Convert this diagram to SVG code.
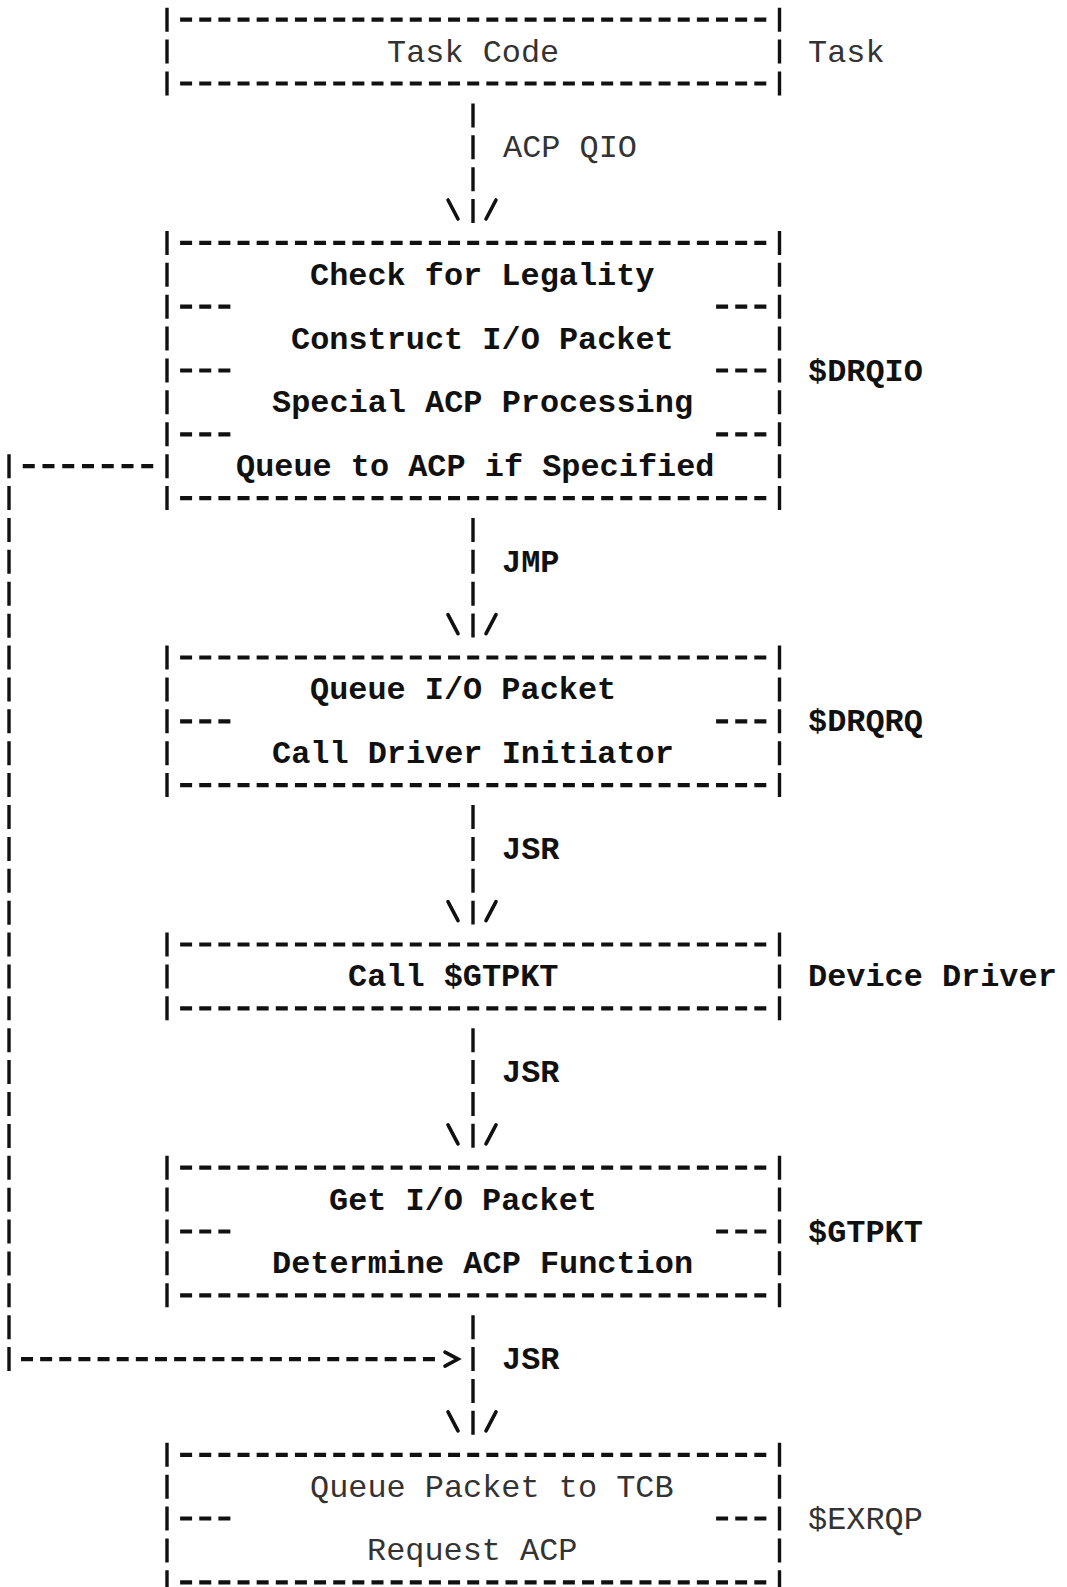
<svg xmlns="http://www.w3.org/2000/svg" width="1067" height="1587" viewBox="0 0 1067 1587">
<style>
  .bg { fill: #ffffff; }
  .hd { stroke: #111; stroke-width: 4.2; stroke-dasharray: 12 7.14; fill: none; }
  .vb { stroke: #111; stroke-width: 3.4; stroke-dasharray: 24 7.89; fill: none; }
  .ln { stroke: #111; stroke-width: 3.6; fill: none; stroke-linecap: round; }
  .t { font-family: "Liberation Mono", "DejaVu Sans Mono", monospace; font-size: 31.9px; font-weight: bold; fill: #111; }
  .tl { font-family: "Liberation Mono", "DejaVu Sans Mono", monospace; font-size: 31.9px; font-weight: normal; fill: #333; }
</style>
<rect class="bg" x="0" y="0" width="1067" height="1587"/>
<g transform="translate(0 2.5)">
<g id="node-task">
  <line class="vb" x1="167" y1="5.2" x2="167" y2="93"/>
  <line class="vb" x1="779.5" y1="5.2" x2="779.5" y2="93"/>
  <line class="hd" x1="180.1" y1="17.2" x2="766.4" y2="17.2"/>
  <line class="hd" x1="180.1" y1="81" x2="766.4" y2="81"/>
  <text class="tl" x="387" y="59">Task Code</text>
  <text class="tl" x="808" y="59">Task</text>
</g>

<g id="node-drqio">
  <line class="vb" x1="167" y1="228.4" x2="167" y2="507.6"/>
  <line class="vb" x1="779.5" y1="228.4" x2="779.5" y2="507.6"/>
  <line class="hd" x1="180.1" y1="240.4" x2="766.4" y2="240.4"/>
  <line class="hd" x1="180.1" y1="495.6" x2="766.4" y2="495.6"/>
  <line class="hd" x1="180.1" y1="304.2" x2="230.4" y2="304.2"/>
  <line class="hd" x1="716.1" y1="304.2" x2="766.4" y2="304.2"/>
  <line class="hd" x1="180.1" y1="368" x2="230.4" y2="368"/>
  <line class="hd" x1="716.1" y1="368" x2="766.4" y2="368"/>
  <line class="hd" x1="180.1" y1="431.8" x2="230.4" y2="431.8"/>
  <line class="hd" x1="716.1" y1="431.8" x2="766.4" y2="431.8"/>
  <text class="t" x="310" y="282.3">Check for Legality</text>
  <text class="t" x="291" y="346.1">Construct I/O Packet</text>
  <text class="t" x="272" y="409.9">Special ACP Processing</text>
  <text class="t" x="236" y="473.7">Queue to ACP if Specified</text>
  <text class="t" x="808" y="378">$DRQIO</text>
</g>

<g id="node-drqrq">
  <line class="vb" x1="167" y1="643" x2="167" y2="794.6"/>
  <line class="vb" x1="779.5" y1="643" x2="779.5" y2="794.6"/>
  <line class="hd" x1="180.1" y1="655" x2="766.4" y2="655"/>
  <line class="hd" x1="180.1" y1="782.6" x2="766.4" y2="782.6"/>
  <line class="hd" x1="180.1" y1="718.8" x2="230.4" y2="718.8"/>
  <line class="hd" x1="716.1" y1="718.8" x2="766.4" y2="718.8"/>
  <text class="t" x="310" y="696.9">Queue I/O Packet</text>
  <text class="t" x="272" y="760.7">Call Driver Initiator</text>
  <text class="t" x="808" y="728.8">$DRQRQ</text>
</g>

<g id="node-driver">
  <line class="vb" x1="167" y1="930" x2="167" y2="1017.8"/>
  <line class="vb" x1="779.5" y1="930" x2="779.5" y2="1017.8"/>
  <line class="hd" x1="180.1" y1="942" x2="766.4" y2="942"/>
  <line class="hd" x1="180.1" y1="1005.8" x2="766.4" y2="1005.8"/>
  <text class="t" x="348" y="983.9">Call $GTPKT</text>
  <text class="t" x="808" y="983.9">Device Driver</text>
</g>

<g id="node-gtpkt">
  <line class="vb" x1="167" y1="1153.2" x2="167" y2="1304.8"/>
  <line class="vb" x1="779.5" y1="1153.2" x2="779.5" y2="1304.8"/>
  <line class="hd" x1="180.1" y1="1165.2" x2="766.4" y2="1165.2"/>
  <line class="hd" x1="180.1" y1="1292.8" x2="766.4" y2="1292.8"/>
  <line class="hd" x1="180.1" y1="1229" x2="230.4" y2="1229"/>
  <line class="hd" x1="716.1" y1="1229" x2="766.4" y2="1229"/>
  <text class="t" x="329" y="1207.1">Get I/O Packet</text>
  <text class="t" x="272" y="1270.9">Determine ACP Function</text>
  <text class="t" x="808" y="1239">$GTPKT</text>
</g>

<g id="node-exrqp">
  <line class="vb" x1="167" y1="1440.3" x2="167" y2="1591.8"/>
  <line class="vb" x1="779.5" y1="1440.3" x2="779.5" y2="1591.8"/>
  <line class="hd" x1="180.1" y1="1452.3" x2="766.4" y2="1452.3"/>
  <line class="hd" x1="180.1" y1="1579.8" x2="766.4" y2="1579.8"/>
  <line class="hd" x1="180.1" y1="1516" x2="230.4" y2="1516"/>
  <line class="hd" x1="716.1" y1="1516" x2="766.4" y2="1516"/>
  <text class="tl" x="310" y="1494.1">Queue Packet to TCB</text>
  <text class="tl" x="367" y="1557.9">Request ACP</text>
  <text class="tl" x="808" y="1526">$EXRQP</text>
</g>

<g id="connectors">
  <line class="vb" x1="473" y1="100.9" x2="473" y2="220.5"/>
  <path class="ln" d="M448 197.5 L458 216.5 M496 197.5 L486 216.5"/>
  <text class="tl" x="503" y="154.8">ACP QIO</text>

  <line class="vb" x1="473" y1="515.4" x2="473" y2="635.1"/>
  <path class="ln" d="M448 612.1 L458 631.1 M496 612.1 L486 631.1"/>
  <text class="t" x="502" y="569.3">JMP</text>

  <line class="vb" x1="473" y1="802.5" x2="473" y2="922.1"/>
  <path class="ln" d="M448 899.1 L458 918.1 M496 899.1 L486 918.1"/>
  <text class="t" x="502" y="856.3">JSR</text>

  <line class="vb" x1="473" y1="1025.7" x2="473" y2="1145.4"/>
  <path class="ln" d="M448 1122.4 L458 1141.4 M496 1122.4 L486 1141.4"/>
  <text class="t" x="502" y="1079.6">JSR</text>

  <line class="vb" x1="473" y1="1312.7" x2="473" y2="1432.4"/>
  <path class="ln" d="M448 1409.4 L458 1428.4 M496 1409.4 L486 1428.4"/>
  <text class="t" x="502" y="1366.6">JSR</text>

  <line class="vb" x1="9" y1="451.7" x2="9" y2="1368.6"/>
  <line class="hd" x1="22.75" y1="463.7" x2="153.25" y2="463.7" style="stroke-dasharray:12 7.75"/>
  <line class="hd" x1="21" y1="1356.6" x2="435" y2="1356.6"/>
  <path class="ln" d="M445 1349.6 L458 1356.6 L445 1363.6"/>
</g>
</g>
</svg>
